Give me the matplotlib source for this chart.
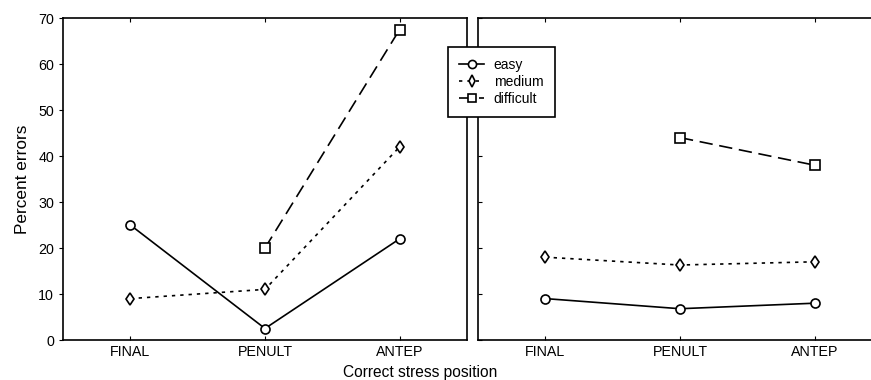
import numpy as np
import matplotlib
matplotlib.use("Agg")
import matplotlib.pyplot as plt

# ===== DATA =====
positions = ["FINAL", "PENULT", "ANTEP"]
levels = ["easy", "medium", "difficult"]

# left panel
left_easy = [25, 2.5, 22]
left_medium = [9, 11, 42]
left_difficult = [np.nan, 20, 67.5]

# right panel
right_easy = [9, 6.8, 8]
right_medium = [18, 16.3, 17]
right_difficult = [np.nan, 44, 38]

# ===== STYLE =====
plt.rcParams["font.family"] = ["Liberation Sans", "DejaVu Sans"]
styles = {
    "easy": dict(linestyle="-", marker="o"),
    "medium": dict(linestyle=(0, (2, 3)), marker="d"),
    "difficult": dict(linestyle=(0, (8, 4)), marker="s"),
}

fig = plt.figure(figsize=(8.71, 3.8), dpi=100)
ax1 = fig.add_axes([63 / 871, 40 / 380, 404 / 871, 322 / 380])
ax2 = fig.add_axes([478 / 871, 40 / 380, 404 / 871, 322 / 380])

x = np.arange(len(positions))
handles = []
for ax, series in [(ax1, [left_easy, left_medium, left_difficult]),
                   (ax2, [right_easy, right_medium, right_difficult])]:
    for name, vals in zip(levels, series):
        ln, = ax.plot(x, vals, color="black", linewidth=1.2,
                      markersize=6.5, markerfacecolor="white",
                      markeredgewidth=1.2, label=name, **styles[name])
        if ax is ax1:
            handles.append(ln)
    ax.set_xlim(-0.5, 2.5)
    ax.set_ylim(0, 70)
    ax.set_xticks(x)
    ax.set_xticklabels(positions, fontsize=10.3)
    ax.set_yticks(range(0, 71, 10))
    ax.tick_params(direction="in", length=3, top=True, right=False, width=0.8)
    for sp in ax.spines.values():
        sp.set_linewidth(1.2)

ax1.tick_params(axis="y", labelsize=10.3, direction="out")
ax2.tick_params(axis="y", labelleft=False)

ax1.set_ylabel("Percent errors", fontsize=12.4, labelpad=6)
fig.text(420 / 871, 0, "Correct stress position", ha="center",
         va="bottom", fontsize=11.2)

leg = fig.legend(handles=handles, loc="upper left",
                 bbox_to_anchor=(448 / 871, 1 - 47 / 380),
                 fontsize=10, frameon=True, fancybox=False,
                 edgecolor="black", framealpha=1, handlelength=1.8,
                 handletextpad=0.7, borderpad=0.8, borderaxespad=0,
                 labelspacing=0.2, markerscale=0.9)
leg.get_frame().set_linewidth(1.2)

fig.savefig("out.png", dpi=100)
